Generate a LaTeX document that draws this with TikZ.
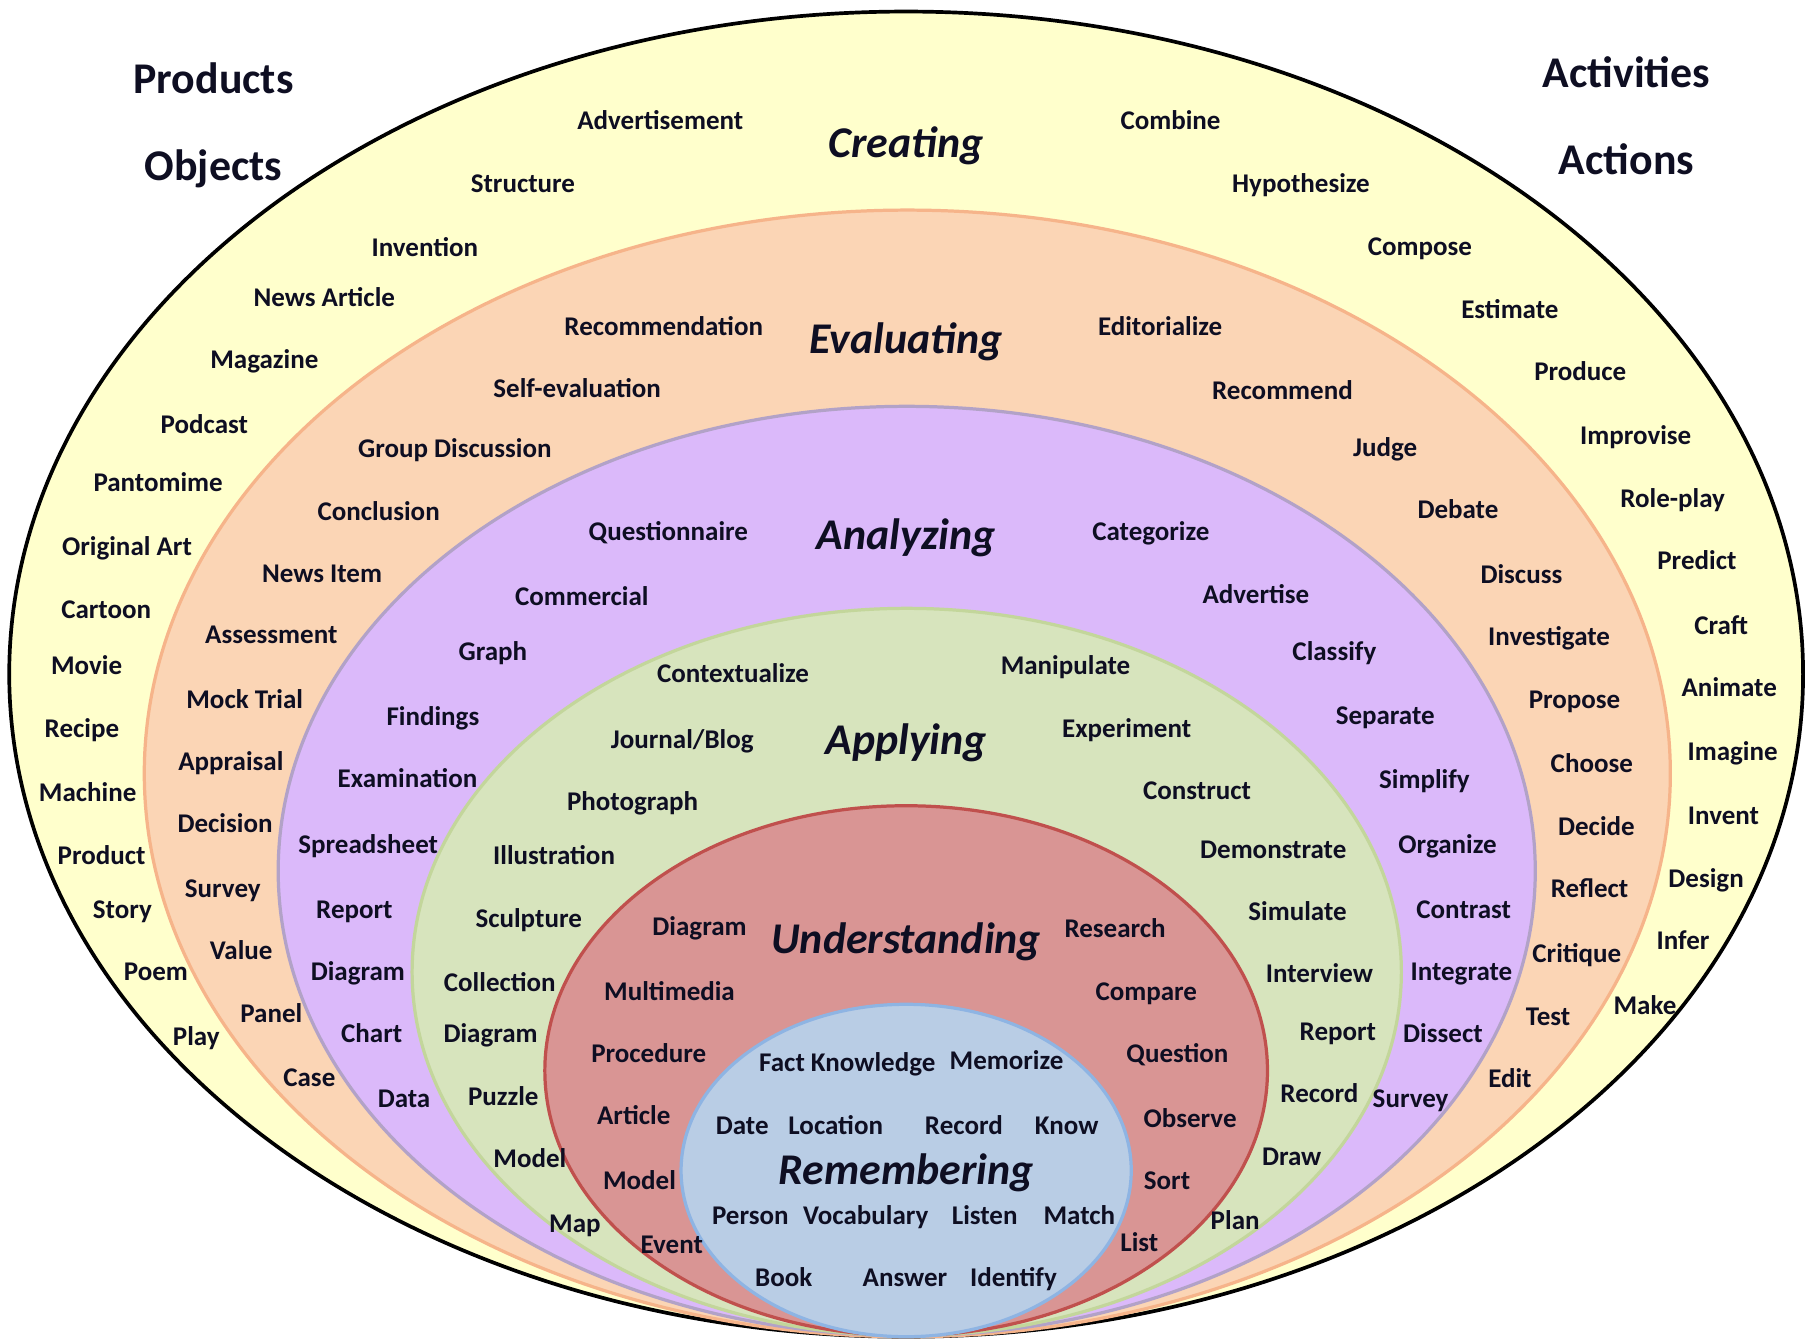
\documentclass[tikz,border=0pt]{standalone}
\usepackage{fontspec}
\setmainfont{Carlito}
\usepackage{tikz}

\definecolor{creafill}{HTML}{FFFFCC}
\definecolor{evalfill}{HTML}{FBD5B5}
\definecolor{evaldraw}{HTML}{F6B48A}
\definecolor{analfill}{HTML}{DBB9FA}
\definecolor{analdraw}{HTML}{B2A2C7}
\definecolor{applfill}{HTML}{D7E4BD}
\definecolor{appldraw}{HTML}{C3D69B}
\definecolor{undefill}{HTML}{D99594}
\definecolor{undedraw}{HTML}{C0504D}
\definecolor{remefill}{HTML}{B9CDE5}
\definecolor{remedraw}{HTML}{8EB4E3}
\definecolor{ink}{HTML}{0E0E22}

\begin{document}
\begin{tikzpicture}[x=0.5pt,y=-0.5pt,
  w/.style={font=\bfseries\fontsize{11.7}{14}\selectfont,text=ink,inner sep=0pt,text height=8.5pt,text depth=0pt},
  lvl/.style={font=\bfseries\itshape\fontsize{19}{22}\selectfont,text=ink,inner sep=0pt,text height=13.2pt,text depth=0pt},
  hd/.style={font=\bfseries\fontsize{19}{22}\selectfont,text=ink,inner sep=0pt,text height=13.2pt,text depth=0pt}]
\useasboundingbox (0,0) rectangle (1568,1161);

% nested levels
\draw[line width=1.6pt,fill=creafill] (785,584) ellipse [x radius=777, y radius=574];
\draw[line width=1.4pt,draw=evaldraw,fill=evalfill] (786,670) ellipse [x radius=661, y radius=488];
\draw[line width=1.4pt,draw=analdraw,fill=analfill] (785.5,754.5) ellipse [x radius=544.5, y radius=402.5];
\draw[line width=1.4pt,draw=appldraw,fill=applfill] (785.5,842) ellipse [x radius=428.5, y radius=315];
\draw[line width=1.4pt,draw=undedraw,fill=undefill] (785,927.5) ellipse [x radius=313, y radius=229.5];
\draw[line width=1.4pt,draw=remedraw,fill=remefill] (785,1014) ellipse [x radius=195, y radius=144];

% headings
\node[hd] (prod) at (185,68) {Products};
\node[hd] (obj) at (185,143) {Objects};
\node[hd] (act) at (1409,63) {Activities};
\node[hd] (acn) at (1409,138) {Actions};

% creating
\node[lvl] (crea) at (785,123) {Creating};
\node[w] (c1) at (572,104) {Advertisement};
\node[w] (c2) at (1014,104) {Combine};
\node[w] (c3) at (453,158) {Structure};
\node[w] (c4) at (1127,158) {Hypothesize};
\node[w] (c5) at (368,214) {Invention};
\node[w] (c6) at (1230,213) {Compose};
\node[w] (c7) at (281,257) {News Article};
\node[w] (c8) at (1308,267) {Estimate};
\node[w] (c9) at (229,311) {Magazine};
\node[w] (c10) at (1369,321) {Produce};
\node[w] (c11) at (177,367) {Podcast};
\node[w] (c12) at (1417,377) {Improvise};
\node[w] (c13) at (137,417) {Pantomime};
\node[w] (c14) at (1449,431) {Role-play};
\node[w] (c15) at (110,473) {Original Art};
\node[w] (c16) at (1470,485) {Predict};
\node[w] (c17) at (92,527) {Cartoon};
\node[w] (c18) at (1491,541) {Craft};
\node[w] (c19) at (75,576) {Movie};
\node[w] (c20) at (1498,595) {Animate};
\node[w] (c21) at (71,630) {Recipe};
\node[w] (c22) at (1501,650) {Imagine};
\node[w] (c23) at (76,686) {Machine};
\node[w] (c24) at (1493,706) {Invent};
\node[w] (c25) at (88,740) {Product};
\node[w] (c26) at (1478,760) {Design};
\node[w] (c27) at (106,787) {Story};
\node[w] (c28) at (1458,814) {Infer};
\node[w] (c29) at (135,841) {Poem};
\node[w] (c30) at (1425,870) {Make};
\node[w] (c31) at (170,897) {Play};

% evaluating
\node[lvl] (eval) at (785,293) {Evaluating};
\node[w] (e1) at (575,282) {Recommendation};
\node[w] (e2) at (1005,282) {Editorialize};
\node[w] (e3) at (500,336) {Self-evaluation};
\node[w] (e4) at (1111,338) {Recommend};
\node[w] (e5) at (394,388) {Group Discussion};
\node[w] (e6) at (1200,387) {Judge};
\node[w] (e7) at (328,442) {Conclusion};
\node[w] (e8) at (1263,441) {Debate};
\node[w] (e9) at (279,496) {News Item};
\node[w] (e10) at (1318,497) {Discuss};
\node[w] (e11) at (235,549) {Assessment};
\node[w] (e12) at (1342,551) {Investigate};
\node[w] (e13) at (212,605) {Mock Trial};
\node[w] (e14) at (1364,605) {Propose};
\node[w] (e15) at (200,659) {Appraisal};
\node[w] (e16) at (1379,661) {Choose};
\node[w] (e17) at (195,713) {Decision};
\node[w] (e18) at (1383,715) {Decide};
\node[w] (e19) at (193,769) {Survey};
\node[w] (e20) at (1377,769) {Reflect};
\node[w] (e21) at (209,823) {Value};
\node[w] (e22) at (1366,825) {Critique};
\node[w] (e23) at (235,877) {Panel};
\node[w] (e24) at (1341,880) {Test};
\node[w] (e25) at (268,933) {Case};
\node[w] (e26) at (1308,934) {Edit};

% analyzing
\node[lvl] (anal) at (785,463) {Analyzing};
\node[w] (n1) at (579,460) {Questionnaire};
\node[w] (n2) at (997,460) {Categorize};
\node[w] (n3) at (504,516) {Commercial};
\node[w] (n4) at (1088,514) {Advertise};
\node[w] (n5) at (427,564) {Graph};
\node[w] (n6) at (1156,564) {Classify};
\node[w] (n7) at (375,620) {Findings};
\node[w] (n8) at (1200,619) {Separate};
\node[w] (n9) at (353,674) {Examination};
\node[w] (n10) at (1234,675) {Simplify};
\node[w] (n11) at (319,731) {Spreadsheet};
\node[w] (n12) at (1254,731) {Organize};
\node[w] (n13) at (307,787) {Report};
\node[w] (n14) at (1268,787) {Contrast};
\node[w] (n15) at (310,841) {Diagram};
\node[w] (n16) at (1266,841) {Integrate};
\node[w] (n17) at (322,895) {Chart};
\node[w] (n18) at (1250,895) {Dissect};
\node[w] (n19) at (350,951) {Data};
\node[w] (n20) at (1222,951) {Survey};

% applying
\node[lvl] (appl) at (785,640) {Applying};
\node[w] (a1) at (635,583) {Contextualize};
\node[w] (a2) at (923,576) {Manipulate};
\node[w] (a3) at (591,640) {Journal/Blog};
\node[w] (a4) at (976,630) {Experiment};
\node[w] (a5) at (548,694) {Photograph};
\node[w] (a6) at (1037,684) {Construct};
\node[w] (a7) at (480,740) {Illustration};
\node[w] (a8) at (1103,735) {Demonstrate};
\node[w] (a9) at (458,795) {Sculpture};
\node[w] (a10) at (1124,789) {Simulate};
\node[w] (a11) at (433,850) {Collection};
\node[w] (a12) at (1143,843) {Interview};
\node[w] (a13) at (425,895) {Diagram};
\node[w] (a14) at (1159,893) {Report};
\node[w] (a15) at (436,949) {Puzzle};
\node[w] (a16) at (1143,947) {Record};
\node[w] (a17) at (459,1003) {Model};
\node[w] (a18) at (1119,1001) {Draw};
\node[w] (a19) at (498,1059) {Map};
\node[w] (a20) at (1070,1057) {Plan};

% understanding
\node[lvl] (unde) at (785,813) {Understanding};
\node[w] (u1) at (606,802) {Diagram};
\node[w] (u2) at (966,804) {Research};
\node[w] (u3) at (580,858) {Multimedia};
\node[w] (u4) at (993,858) {Compare};
\node[w] (u5) at (562,912) {Procedure};
\node[w] (u6) at (1020,912) {Question};
\node[w] (u7) at (549,966) {Article};
\node[w] (u8) at (1031,968) {Observe};
\node[w] (u9) at (554,1022) {Model};
\node[w] (u10) at (1011,1022) {Sort};
\node[w] (u11) at (582,1077) {Event};
\node[w] (u12) at (987,1076) {List};

% remembering
\node[lvl] (reme) at (785,1013) {Remembering};
\node[w] (r1) at (734,920) {Fact Knowledge};
\node[w] (r2) at (872,918) {Memorize};
\node[w] (r3) at (643,974) {Date};
\node[w] (r4) at (724,974) {Location};
\node[w] (r5) at (835,974) {Record};
\node[w] (r6) at (924,974) {Know};
\node[w] (r7) at (650,1052) {Person};
\node[w] (r8) at (750,1052) {Vocabulary};
\node[w] (r9) at (853,1052) {Listen};
\node[w] (r10) at (935,1052) {Match};
\node[w] (r11) at (679,1106) {Book};
\node[w] (r12) at (784,1106) {Answer};
\node[w] (r13) at (878,1106) {Identify};
\end{tikzpicture}
\end{document}
